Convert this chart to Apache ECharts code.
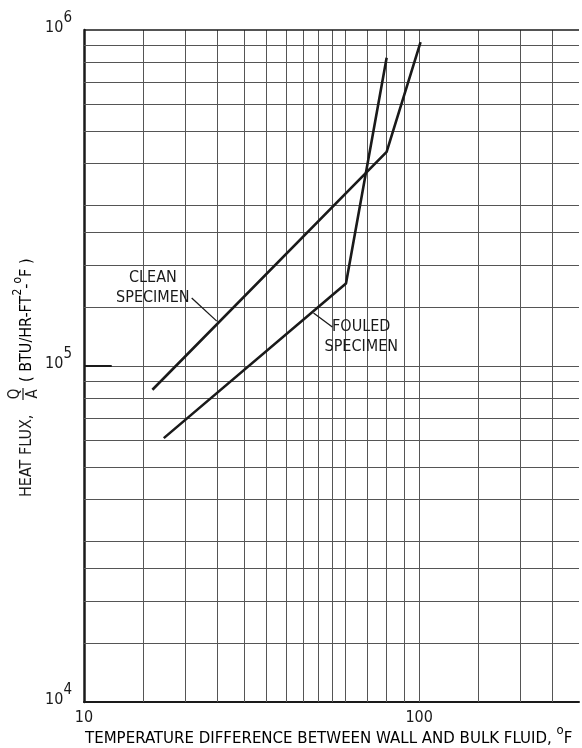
<!DOCTYPE html>
<html><head><meta charset="utf-8">
<script src="https://cdn.jsdelivr.net/npm/echarts@6/dist/echarts.min.js"></script>
<style>html,body{margin:0;padding:0;background:#fff}#c{width:582px;height:748px}</style>
</head><body><div id="c"></div>
<script>
// ---- data ----
const cleanX = [16, 80, 101];
const cleanY = [85000, 434000, 920000];
const fouledX = [17.3, 60.5, 80];
const fouledY = [61000, 176000, 827000];
const xGrid = [15, 20, 25, 30, 35, 40, 45, 50, 55, 60, 70, 80, 90, 100, 150, 200, 250];
const yGrid = [1.5e4, 2e4, 2.5e4, 3e4, 4e4, 5e4, 6e4, 7e4, 8e4, 9e4, 1e5, 1.5e5, 2e5, 2.5e5, 3e5, 4e5, 5e5, 6e5, 7e5, 8e5, 9e5];
const xTickLabels = [10, 100];
const yTickLabels = [1e4, 1e5, 1e6];
const cleanLabel = ['CLEAN', 'SPECIMEN'];
const fouledLabel = ['FOULED', 'SPECIMEN'];
const cleanLabelAt = [16.05, 170700];
const fouledLabelAt = [67.2, 122000];
const cleanLeader = [[20.96, 159400], [24.9, 136000]];
const fouledLeader = [[55.1, 130600], [48.4, 143800]];

const FONT = '"DejaVu Sans Condensed", "Liberation Sans Narrow", sans-serif';
const INK = '#1a1a1a';
const GRID = '#555555';

const chart = echarts.init(document.getElementById('c'), null, {renderer: 'canvas'});

function near(v, list) { return list.some(t => Math.abs(t - v) / t < 1e-6); }

chart.setOption({
  animation: false,
  backgroundColor: '#fff',
  grid: {left: 84, top: 30, right: 2, bottom: 46},
  xAxis: {
    type: 'log', logBase: 10, min: 10, max: 300,
    axisLine: {show: true, onZero: false, lineStyle: {color: INK, width: 2}},
    axisTick: {show: false},
    splitLine: {show: false},
    axisLabel: {
      margin: 8, color: INK, fontFamily: FONT, fontSize: 16,
      formatter: v => near(v, xTickLabels) ? String(Math.round(v)) : ''
    }
  },
  yAxis: {
    type: 'log', logBase: 10, min: 1e4, max: 1e6,
    axisLine: {show: true, onZero: false, lineStyle: {color: INK, width: 2.5}},
    axisTick: {show: false},
    splitLine: {show: false},
    axisLabel: {
      margin: 12, color: INK, fontFamily: FONT, fontSize: 16,
      padding: [0, 0, 5, 0],
      formatter: v => near(v, yTickLabels) ? '{b|10}{e|' + Math.round(Math.log10(v)) + '}' : '',
      rich: {
        b: {fontFamily: FONT, fontSize: 16, color: INK, lineHeight: 34, verticalAlign: 'middle'},
        e: {fontFamily: FONT, fontSize: 15, color: INK, lineHeight: 18, verticalAlign: 'top'}
      }
    }
  },
  series: [
    {
      type: 'line', data: [], silent: true, z: 1,
      markLine: {
        silent: true, symbol: 'none', label: {show: false}, animation: false,
        lineStyle: {color: GRID, width: 1, type: 'solid'},
        data: xGrid.map(v => ({xAxis: v})).concat(yGrid.map(v => ({yAxis: v})))
      }
    },
    {
      type: 'line', data: [], silent: true, z: 2,
      markLine: {
        silent: true, symbol: 'none', label: {show: false}, animation: false,
        lineStyle: {color: INK, width: 1.5, type: 'solid'},
        data: [
          {yAxis: 1e6},
          [{coord: [10, 1e5], lineStyle: {width: 2}}, {coord: [12.1, 1e5]}]
        ]
      }
    },
    {
      name: 'clean', type: 'line', symbol: 'none', z: 5,
      lineStyle: {color: INK, width: 2.6},
      data: cleanX.map((x, i) => [x, cleanY[i]])
    },
    {
      name: 'fouled', type: 'line', symbol: 'none', z: 5,
      lineStyle: {color: INK, width: 2.6},
      data: fouledX.map((x, i) => [x, fouledY[i]])
    },
    {
      type: 'line', data: [], silent: true, z: 6,
      markLine: {
        silent: true, symbol: ['none', 'arrow'], symbolSize: [0, 7], label: {show: false}, animation: false,
        lineStyle: {color: INK, width: 1.3, type: 'solid'},
        data: [
          [{coord: cleanLeader[0]}, {coord: cleanLeader[1]}],
          [{coord: fouledLeader[0]}, {coord: fouledLeader[1]}]
        ]
      }
    }
  ]
});

const pc = chart.convertToPixel({gridIndex: 0}, cleanLabelAt);
const pf = chart.convertToPixel({gridIndex: 0}, fouledLabelAt);
const annStyle = {fontFamily: FONT, fontSize: 16, fill: INK, align: 'center', verticalAlign: 'middle', lineHeight: 20};
const supRich = {
  t: {fontFamily: FONT, fontSize: 16, color: INK, lineHeight: 30, verticalAlign: 'middle'},
  s: {fontFamily: FONT, fontSize: 12, color: INK, lineHeight: 16, verticalAlign: 'top'}
};
const supRichX = {
  t: {fontFamily: FONT, fontSize: 16.7, color: INK, lineHeight: 30, verticalAlign: 'middle'},
  s: {fontFamily: FONT, fontSize: 13, color: INK, lineHeight: 16, verticalAlign: 'top'}
};

chart.setOption({
  graphic: [
    {type: 'text', x: pc[0], y: pc[1], z: 10, style: Object.assign({text: cleanLabel.join('\n')}, annStyle)},
    {type: 'text', x: pf[0], y: pf[1], z: 10, style: Object.assign({text: fouledLabel.join('\n')}, annStyle)},
    {
      type: 'text', x: 85, y: 739, z: 10,
      style: {
        text: '{t|TEMPERATURE DIFFERENCE BETWEEN WALL AND BULK FLUID, }{s|o}{t|F}',
        rich: supRichX, align: 'left', verticalAlign: 'middle'
      }
    },
    {
      type: 'group', x: 27, y: 497, rotation: Math.PI / 2, z: 10,
      children: [
        {type: 'text', x: 0, y: 0, style: {text: 'HEAT FLUX,', fontFamily: FONT, fontSize: 16, fill: INK, align: 'left', verticalAlign: 'middle'}},
        {type: 'text', x: 103, y: -12, style: {text: 'Q', fontFamily: FONT, fontSize: 15, fill: INK, align: 'center', verticalAlign: 'middle'}},
        {type: 'line', shape: {x1: 97, y1: -4, x2: 109, y2: -4}, style: {stroke: INK, lineWidth: 1.2}},
        {type: 'text', x: 103, y: 6.5, style: {text: 'A', fontFamily: FONT, fontSize: 15, fill: INK, align: 'center', verticalAlign: 'middle'}},
        {type: 'text', x: 115, y: 0, style: {
          text: '{t|( BTU/HR-FT}{s|2}{t|-}{s|o}{t|F )}',
          rich: supRich, align: 'left', verticalAlign: 'middle'
        }}
      ]
    }
  ]
});
</script>
</body></html>
